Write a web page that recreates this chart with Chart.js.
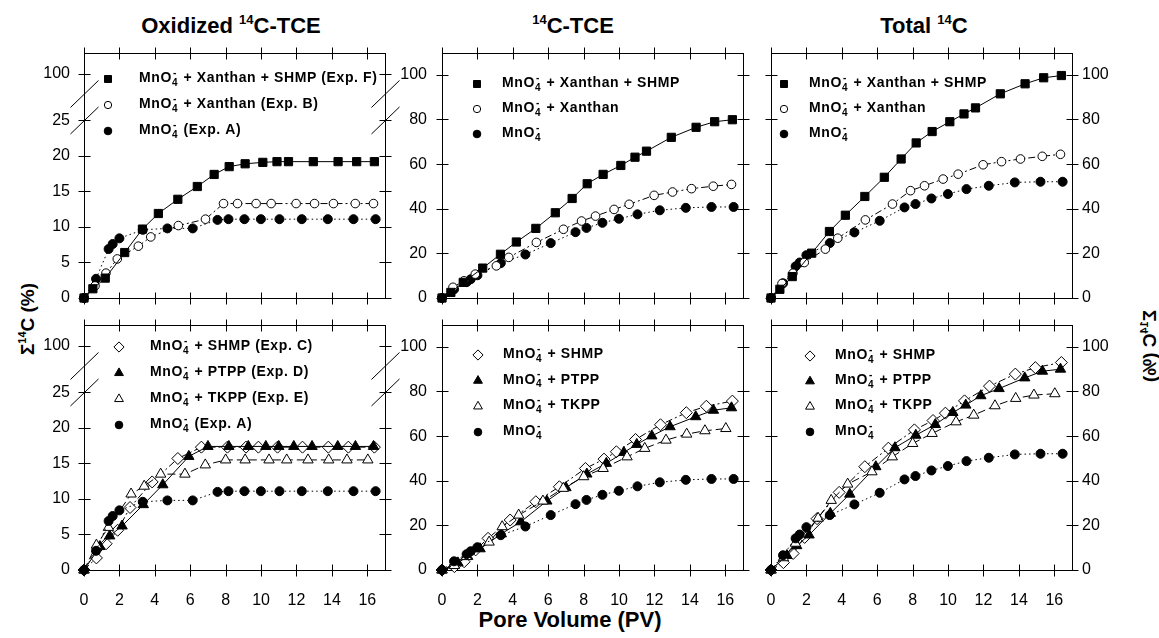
<!DOCTYPE html>
<html>
<head>
<meta charset="utf-8">
<script src="https://cdn.jsdelivr.net/npm/chart.js@4/dist/chart.umd.min.js"></script>
<style>
  body { margin:0; background:#fff; width:1159px; height:638px; overflow:hidden; position:relative;
         font-family:"Liberation Sans", Arial, sans-serif; }
  canvas { position:absolute; }
  .t { position:absolute; text-align:center; font-weight:bold; font-size:22px; line-height:22px; color:#000; white-space:nowrap; }
  .t .s { font-size:13px; position:relative; top:-9px; }
  .ax { position:absolute; width:130px; height:22px; line-height:22px; text-align:center; font-weight:bold; font-size:19px; white-space:nowrap; }
  .ax .s { font-size:11px; position:relative; top:-8px; }
</style>
</head>
<body>
<div class="t" style="left:131px;width:200px;top:15px">Oxidized <span class="s">14</span>C-TCE</div>
<div class="t" style="left:473px;width:200px;top:15px"><span class="s">14</span>C-TCE</div>
<div class="t" style="left:824px;width:200px;top:15px">Total <span class="s">14</span>C</div>
<div class="t" style="left:470px;width:200px;top:609px">Pore Volume (PV)</div>
<div class="ax" style="left:-37px;top:308px;transform:rotate(-90deg)">Σ<span class="s">14</span>C (%)</div>
<div class="ax" style="left:1085px;top:335px;transform:rotate(90deg) scaleY(-1)">Σ<span class="s">14</span>C (%)</div>

<script>
// pore volumes (PV) for each experiment
const xF = [0, 0.5, 1.2, 2.3, 3.3, 4.2, 5.3, 6.4, 7.35, 8.2, 9.1, 10.1, 10.9, 11.55, 12.95, 14.35, 15.4, 16.4];
const xB = [0, 0.62, 1.24, 1.88, 3.07, 3.77, 5.33, 6.86, 7.88, 8.67, 9.72, 10.57, 11.98, 13.02, 14.09, 15.32, 16.35];
const xA = [0, 0.68, 1.39, 1.62, 2.0, 3.32, 4.71, 6.14, 7.54, 8.16, 9.06, 9.99, 11.04, 12.3, 13.77, 15.22, 16.47];
const xC = [0, 0.7, 1.25, 1.9, 2.6, 3.85, 5.3, 6.63, 8.1, 9.15, 9.85, 10.93, 12.34, 13.8, 14.93, 16.4];
const xD = [0, 0.9, 1.45, 2.15, 3.35, 4.45, 5.92, 7.0, 8.18, 9.28, 10.27, 11.0, 11.85, 12.88, 14.33, 15.33, 16.35];
const xE = [0, 0.7, 1.38, 2.66, 3.4, 4.33, 5.7, 6.85, 8.0, 9.1, 10.45, 11.45, 12.65, 13.82, 14.85, 16.03];

// oxidized 14C-TCE (%)
const oxF = [0, 1.3, 2.8, 6.4, 9.7, 11.9, 13.9, 15.7, 17.4, 18.5, 18.9, 19.1, 19.2, 19.2, 19.2, 19.2, 19.2, 19.2];
const oxB = [0, 1.7, 3.5, 5.5, 7.3, 8.6, 10.2, 11.1, 13.3, 13.3, 13.3, 13.3, 13.3, 13.3, 13.3, 13.3, 13.3];
const oxA = [0, 2.7, 6.9, 7.6, 8.4, 9.6, 9.8, 9.8, 11.0, 11.1, 11.1, 11.1, 11.1, 11.1, 11.1, 11.1, 11.1];
const oxC = [0, 1.7, 3.7, 5.6, 8.8, 12.4, 15.7, 17.3, 17.3, 17.3, 17.3, 17.3, 17.3, 17.3, 17.3, 17.3];
const oxD = [0, 3.3, 4.8, 6.2, 9.2, 12.0, 16.0, 17.4, 17.4, 17.4, 17.4, 17.4, 17.4, 17.4, 17.4, 17.4, 17.4];
const oxE = [0, 3.5, 6.0, 10.7, 11.8, 13.5, 13.5, 14.8, 15.5, 15.5, 15.5, 15.5, 15.5, 15.5, 15.5, 15.5];

// 14C-TCE (%)
const tceF = [0, 2.5, 7, 13.4, 19.6, 25.1, 31.2, 38.2, 44.6, 51.2, 55.4, 59.4, 63.1, 65.8, 72, 76.5, 79, 79.9];
const tceB = [0, 4.8, 7.7, 10.7, 14.4, 18.2, 24.9, 30.8, 34.5, 36.7, 39.7, 42, 46, 47.5, 49, 50.1, 50.9];
const tceA = [0, 3.9, 7.1, 8.4, 10.2, 15.6, 19.5, 24.6, 29.5, 31.4, 33.7, 35.5, 37.5, 39.3, 40.4, 40.8, 40.8];
const tceC = [0, 1.5, 3.7, 9, 14.2, 22.4, 30.6, 37.3, 45.5, 49.7, 53, 58.5, 65.1, 70.5, 73.4, 75.7];
const tceD = [0, 3.2, 6.1, 9.5, 16.2, 21.6, 30.9, 36.9, 43, 47.8, 52.7, 56.3, 60.1, 64.2, 68.7, 71.6, 72.7];
const tceE = [0, 2, 6, 12.5, 19.4, 24.6, 30.9, 36.6, 41.8, 45.5, 50.7, 54.5, 58.2, 60.9, 62.4, 63.4];

// total 14C (%)
const totF = [0, 3.9, 9.6, 20.1, 29.8, 37.1, 45.5, 54.1, 62.3, 69.5, 74.6, 79, 82.5, 85.2, 91.5, 96, 98.7, 99.7];
const totB = [0, 6.5, 11.1, 15.9, 21.9, 26.8, 35, 42.1, 48.1, 50.3, 53.3, 55.5, 59.7, 61.1, 62.3, 63.5, 64.4];
const totA = [0, 6.6, 14.2, 15.9, 19.2, 24.6, 29.4, 34.6, 40.6, 42.1, 44.6, 46.6, 48.8, 50.3, 51.8, 52.1, 52.1];
const totC = [0, 3.3, 7.4, 14.6, 23, 34.8, 46.3, 54.6, 62.8, 67, 70.3, 75.8, 82.4, 87.8, 90.7, 93];
const totD = [0, 6.5, 10.9, 15.7, 25.4, 34, 46.3, 54.8, 60.4, 65.2, 70.6, 73.9, 78.1, 81.3, 86.1, 89.1, 90];
const totE = [0, 5.5, 12, 23.2, 31.2, 38.5, 44, 50.7, 56.7, 61.2, 66.4, 69.4, 73.6, 76.9, 78.4, 79];

// ticks
const xTicks = [0, 2, 4, 6, 8, 10, 12, 14, 16];
const oxTicks = [0, 5, 10, 15, 20, 25];
const pctTicks = [0, 20, 40, 60, 80, 100];
const BREAK_POS = 31.6;   // where "100" sits above the axis break
const OX_MAX = 34.5;
const PCT_MAX = 109.8;

// legend texts (_ = subscript, ^ = superscript)
const legTopExp = ['MnO_4^- + Xanthan + SHMP (Exp. F)', 'MnO_4^- + Xanthan (Exp. B)', 'MnO_4^- (Exp. A)'];
const legTop = ['MnO_4^- + Xanthan + SHMP', 'MnO_4^- + Xanthan', 'MnO_4^-'];
const legBotExp = ['MnO_4^- + SHMP (Exp. C)', 'MnO_4^- + PTPP (Exp. D)', 'MnO_4^- + TKPP (Exp. E)', 'MnO_4^- (Exp. A)'];
const legBot = ['MnO_4^- + SHMP', 'MnO_4^- + PTPP', 'MnO_4^- + TKPP', 'MnO_4^-'];

const FONT = '"Liberation Sans", Arial, sans-serif';

const STYLES = {
  F: {pointStyle: 'rect', radius: 5.8, bg: '#000', dash: []},
  B: {pointStyle: 'circle', radius: 4.3, bg: '#fff', dash: [7, 3, 2, 3]},
  A: {pointStyle: 'circle', radius: 4.5, bg: '#000', dash: [1.5, 3]},
  C: {pointStyle: 'rectRot', radius: 6, bg: '#fff', dash: [7, 3, 2, 3]},
  D: {pointStyle: 'triangle', radius: 6, bg: '#000', dash: []},
  E: {pointStyle: 'triangle', radius: 6, bg: '#fff', dash: [8, 4]},
};

function ds(key, xs, ys, label) {
  const s = STYLES[key];
  return {
    label: label,
    data: xs.map((x, i) => ({x: x, y: ys[i]})),
    borderColor: '#000',
    borderWidth: 1,
    borderDash: s.dash,
    pointStyle: s.pointStyle,
    pointRadius: s.radius,
    pointBackgroundColor: s.bg,
    pointBorderColor: '#000',
    pointBorderWidth: 1,
    tension: 0,
    clip: false,
  };
}

// split "MnO_4^- + x" into normal / sub / sup runs
function runs(s) {
  const out = [];
  let buf = '';
  for (let i = 0; i < s.length; i++) {
    const c = s[i];
    if (c === '_' || c === '^') {
      if (buf) { out.push({t: buf, k: 'n'}); buf = ''; }
      out.push({t: s[i + 1], k: c === '_' ? 'sub' : 'sup'});
      i++;
    } else buf += c;
  }
  if (buf) out.push({t: buf, k: 'n'});
  return out;
}

function drawRich(ctx, s, x, y) {
  const r = runs(s);
  ctx.textBaseline = 'middle';
  ctx.textAlign = 'left';
  for (let i = 0; i < r.length; i++) {
    const it = r[i];
    if (it.k === 'n') {
      ctx.font = 'bold 14px ' + FONT;
      ctx.fillText(it.t, x, y);
      x += ctx.measureText(it.t).width;
    } else {
      ctx.font = 'bold 10px ' + FONT;
      const w1 = ctx.measureText(it.t).width;
      ctx.fillText(it.t, x, y + (it.k === 'sub' ? 5 : -5));
      let w = w1;
      const nx = r[i + 1];
      if (nx && nx.k !== 'n' && nx.k !== it.k) {
        ctx.fillText(nx.t, x + 1, y + (nx.k === 'sub' ? 5 : -5));
        w = Math.max(w1, ctx.measureText(nx.t).width + 1);
        i++;
      }
      x += w + 1;
    }
  }
}

const framePlugin = {
  id: 'frame',
  beforeDatasetsDraw(chart, args, opts) {
    const {ctx, chartArea: a, scales} = chart;
    const L = Math.round(a.left) + 0.5, R = Math.round(a.right) + 0.5;
    const T = Math.round(a.top) + 0.5, B = Math.round(a.bottom) + 0.5;
    ctx.save();
    ctx.strokeStyle = '#000';
    ctx.lineWidth = 1;
    ctx.setLineDash([]);
    ctx.strokeRect(L, T, R - L, B - T);
    ctx.beginPath();
    scales.x.ticks.forEach(t => {
      const p = Math.round(scales.x.getPixelForValue(t.value)) + 0.5;
      ctx.moveTo(p, B - 6); ctx.lineTo(p, B + 6);
      ctx.moveTo(p, T - 6); ctx.lineTo(p, T + 6);
    });
    scales.y.ticks.forEach(t => {
      const p = Math.round(scales.y.getPixelForValue(t.value)) + 0.5;
      ctx.moveTo(L - 6, p); ctx.lineTo(L + 6, p);
      ctx.moveTo(R - 6, p); ctx.lineTo(R + 6, p);
    });
    if (opts.broken) {
      const y25 = scales.y.getPixelForValue(25);
      [y25, y25 - 26.5].forEach(yc => {
        [L, R].forEach(xc => {
          ctx.moveTo(xc - 14, yc + 13.5);
          ctx.lineTo(xc + 14, yc - 13.5);
        });
      });
    }
    ctx.stroke();
    ctx.restore();
  }
};

const legendPlugin = {
  id: 'panelLegend',
  afterDraw(chart, args, opts) {
    const {ctx, chartArea: a} = chart;
    ctx.save();
    ctx.fillStyle = '#000';
    chart.data.datasets.forEach((d, i) => {
      const j = opts.order.indexOf(i);
      const y = a.top + opts.my + j * opts.dy;
      const mx = a.left + opts.mx;
      ctx.fillStyle = d.pointBackgroundColor;
      ctx.strokeStyle = '#000';
      ctx.lineWidth = 1;
      ctx.setLineDash([]);
      Chart.helpers.drawPoint(ctx, {pointStyle: d.pointStyle, radius: d.pointRadius * 0.85, rotation: 0, borderWidth: 1}, mx, y);
      ctx.fillStyle = '#000';
      ctx.letterSpacing = '0.6px';
      drawRich(ctx, d.label, a.left + opts.tx, y - 1);
      ctx.letterSpacing = '0px';
    });
    ctx.restore();
  }
};

const PW = 301, PH = 245, ML = 60, MR = 60, MT = 10, MB = 45;

// no automatic label padding, so every plot box lands where it should
function noPad(s) {
  s.paddingTop = 0; s.paddingBottom = 0; s.paddingLeft = 0; s.paddingRight = 0;
}

const panels = [
  {left: 84,  top: 53,  col: 0, row: 0, sets: [ds('F', xF, oxF, legTopExp[0]), ds('B', xB, oxB, legTopExp[1]), ds('A', xA, oxA, legTopExp[2])],
   order: [0, 1, 2], leg: {mx: 24, my: 26, tx: 55, dy: 26}},
  {left: 442, top: 53,  col: 1, row: 0, sets: [ds('F', xF, tceF, legTop[0]), ds('B', xB, tceB, legTop[1]), ds('A', xA, tceA, legTop[2])],
   order: [0, 1, 2], leg: {mx: 35, my: 31, tx: 60, dy: 25}},
  {left: 771, top: 53,  col: 2, row: 0, sets: [ds('F', xF, totF, legTop[0]), ds('B', xB, totB, legTop[1]), ds('A', xA, totA, legTop[2])],
   order: [0, 1, 2], leg: {mx: 13, my: 31, tx: 38, dy: 25}},
  {left: 84,  top: 325, col: 0, row: 1, sets: [ds('A', xA, oxA, legBotExp[3]), ds('E', xE, oxE, legBotExp[2]), ds('D', xD, oxD, legBotExp[1]), ds('C', xC, oxC, legBotExp[0])],
   order: [3, 2, 1, 0], leg: {mx: 35, my: 22, tx: 66, dy: 26}},
  {left: 442, top: 325, col: 1, row: 1, sets: [ds('A', xA, tceA, legBot[3]), ds('E', xE, tceE, legBot[2]), ds('D', xD, tceD, legBot[1]), ds('C', xC, tceC, legBot[0])],
   order: [3, 2, 1, 0], leg: {mx: 36, my: 30, tx: 61, dy: 25.7}},
  {left: 771, top: 325, col: 2, row: 1, sets: [ds('A', xA, totA, legBot[3]), ds('E', xE, totE, legBot[2]), ds('D', xD, totD, legBot[1]), ds('C', xC, totC, legBot[0])],
   order: [3, 2, 1, 0], leg: {mx: 39, my: 31, tx: 64, dy: 25.3}},
];

panels.forEach(p => {
  const cv = document.createElement('canvas');
  cv.width = PW + ML + MR;
  cv.height = PH + MT + MB;
  cv.style.left = (p.left - ML) + 'px';
  cv.style.top = (p.top - MT) + 'px';
  document.body.appendChild(cv);

  const ox = p.col === 0;
  const yTicks = ox ? oxTicks.concat([BREAK_POS]) : pctTicks;
  const tickFont = {family: FONT, size: 16};
  const yScale = (pos, show, pad) => ({
    type: 'linear',
    position: pos,
    min: 0,
    max: ox ? OX_MAX : PCT_MAX,
    afterBuildTicks: s => { s.ticks = yTicks.map(v => ({value: v})); },
    afterFit: s => { s.width = pos === 'left' ? ML : MR; noPad(s); },
    grid: {display: false, drawTicks: false},
    border: {display: false},
    ticks: {display: show, padding: pad, color: '#000', font: tickFont,
            callback: v => (v === BREAK_POS ? '100' : v)},
  });

  new Chart(cv, {
    type: 'line',
    data: {datasets: p.sets},
    options: {
      responsive: false,
      animation: false,
      devicePixelRatio: 1,
      layout: {padding: {top: MT, left: 0, right: 0, bottom: 0}},
      scales: {
        x: {
          type: 'linear', min: 0, max: 17,
          afterBuildTicks: s => { s.ticks = xTicks.map(v => ({value: v})); },
          afterFit: s => { s.height = MB; noPad(s); },
          grid: {display: false, drawTicks: false},
          border: {display: false},
          ticks: {display: p.row === 1, padding: 21, color: '#000', font: tickFont, maxRotation: 0},
        },
        y: yScale('left', p.col < 2, p.col === 0 ? 14 : 15),
        yr: yScale('right', p.col === 2, 10),
      },
      plugins: {
        legend: {display: false},
        tooltip: {enabled: false},
        frame: {broken: ox},
        panelLegend: Object.assign({order: p.order}, p.leg),
      },
    },
    plugins: [framePlugin, legendPlugin],
  });
});
</script>
</body>
</html>
